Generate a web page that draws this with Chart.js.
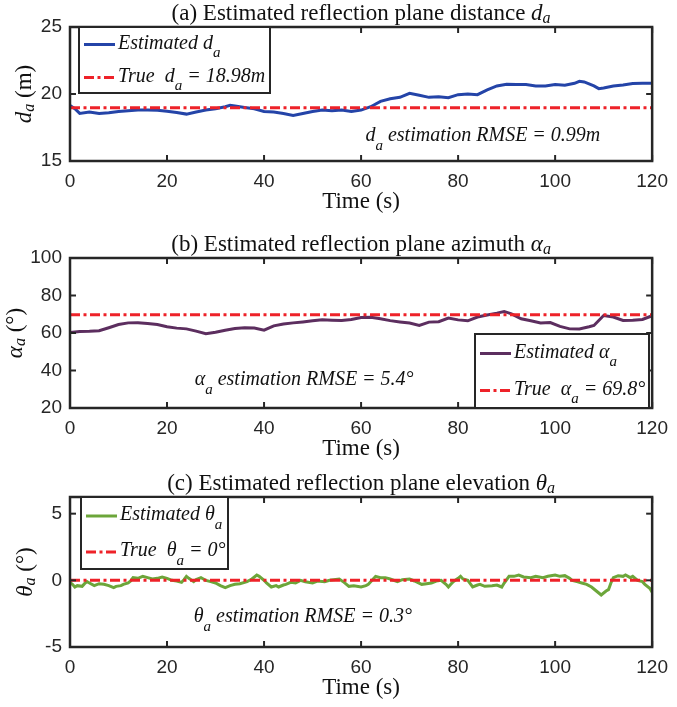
<!DOCTYPE html>
<html>
<head>
<meta charset="utf-8">
<script src="https://cdn.jsdelivr.net/npm/chart.js@4.4.1/dist/chart.umd.min.js"></script>
<style>
  html, body { margin: 0; padding: 0; background: #fff; }
  #wrap { position: relative; width: 677px; height: 707px; overflow: hidden; background: #fff; }
  #wrap canvas { position: absolute; left: 0; }
</style>
</head>
<body>
<div id="wrap">
  <canvas id="chartA" width="677" height="230" style="top:0"></canvas>
  <canvas id="chartB" width="677" height="232" style="top:230px"></canvas>
  <canvas id="chartC" width="677" height="245" style="top:462px"></canvas>
</div>
<script>
// ---- data ----
const xTicks = [0, 20, 40, 60, 80, 100, 120];
const distTicks = [15, 20, 25];
const azimuthTicks = [20, 40, 60, 80, 100];
const elevationTicks = [-5, 0, 5];

// (a) distance d_a (m)
const distTime = [0, 1, 2, 4, 6, 8, 10, 12, 14, 16, 18, 20, 22, 24, 26, 28, 30, 32, 33, 34, 36, 38, 40, 42, 44, 46, 48, 50, 52, 54, 56, 58, 60, 62, 64, 66, 68, 70, 72, 74, 76, 78, 80, 82, 84, 86, 88, 90, 92, 94, 96, 98, 100, 102, 104, 105, 106, 108, 109, 110, 112, 114, 116, 118, 120];
const distEst = [19.15, 18.9, 18.55, 18.65, 18.55, 18.6, 18.7, 18.75, 18.8, 18.8, 18.78, 18.72, 18.62, 18.5, 18.65, 18.8, 18.9, 19.05, 19.15, 19.1, 19.0, 18.9, 18.7, 18.65, 18.55, 18.4, 18.55, 18.7, 18.8, 18.75, 18.8, 18.7, 18.8, 19.05, 19.45, 19.65, 19.75, 20.05, 19.9, 19.75, 19.8, 19.72, 19.95, 20.0, 19.95, 20.3, 20.6, 20.72, 20.7, 20.7, 20.6, 20.6, 20.7, 20.65, 20.8, 20.95, 20.9, 20.6, 20.4, 20.45, 20.6, 20.68, 20.78, 20.8, 20.8];
const distTrue = 18.98;

// (b) azimuth alpha_a (deg)
const azimuthTime = [0, 2, 4, 6, 8, 10, 12, 14, 16, 18, 20, 22, 24, 26, 28, 30, 32, 34, 36, 38, 40, 42, 44, 46, 48, 50, 52, 54, 56, 58, 60, 62, 64, 66, 68, 70, 72, 74, 76, 78, 80, 82, 84, 86, 88, 89.5, 91, 93, 95, 97, 99, 101, 103, 105, 107, 108, 110, 112, 114, 116, 118, 120];
const azimuthEst = [60.2, 60.8, 60.9, 61.2, 62.8, 64.5, 65.4, 65.5, 65.1, 64.5, 63.3, 62.6, 62.2, 61.0, 59.6, 60.4, 61.5, 62.4, 62.8, 62.7, 61.5, 63.8, 64.8, 65.4, 65.9, 66.5, 67.0, 66.8, 66.7, 67.2, 68.3, 68.4, 67.6, 66.6, 65.9, 65.3, 64.0, 65.8, 66.0, 68.0, 67.0, 66.5, 68.5, 69.6, 70.6, 71.5, 70.2, 67.6, 66.5, 65.4, 65.6, 63.5, 62.2, 62.1, 63.3, 64.0, 69.3, 68.5, 66.7, 66.8, 67.2, 69.2];
const azimuthTrue = 69.8;

// (c) elevation theta_a (deg)
const elevationTime = [
    0, 0.5, 1, 1.5, 2.5, 3, 3.5, 4, 5, 6,
    7, 8, 9, 9.5, 10.5, 11, 12, 12.5, 13, 14,
    15, 16, 17, 18, 19, 20, 21, 22, 23, 23.5,
    24, 24.5, 25.5, 26, 27, 27.5, 28, 29, 30, 31,
    32, 33, 34, 35, 36.5, 37.5, 38.5, 39, 40, 40.5,
    41.5, 42.5, 43, 44, 44.5, 45.5, 46.5, 47.5, 48.5, 50,
    51, 52.5, 53.5, 55.5, 56.5, 57.5, 58.5, 60, 61, 61.5,
    62.5, 63, 64, 65, 66, 67.5, 68.5, 70, 71, 72.5,
    73.5, 74.5, 75.5, 76.5, 77.5, 78, 78.5, 79, 80, 80.5,
    81, 82, 82.5, 83, 84, 84.5, 85.5, 87, 88, 89,
    89.5, 90.5, 91.5, 92.5, 93.5, 95, 96, 97.5, 98.5, 100,
    101, 102, 103, 103.5, 104.5, 105.5, 106.5, 107.5, 108.5, 109.5,
    110.5, 111, 111.5, 112, 113, 114, 114.5, 115.5, 116, 117,
    118, 118.5, 119.5, 120
];
const elevationEst = [
    -0.15, -0.3, -0.5, -0.4, -0.45, -0.25, -0.1, -0.2, -0.4, -0.25,
    -0.3, -0.4, -0.55, -0.45, -0.4, -0.3, -0.2, -0.05, 0.2, 0.15,
    0.3, 0.2, 0.1, 0.15, 0.25, 0.15, 0.0, -0.05, -0.15, 0.05,
    0.3, 0.15, -0.1, 0.05, 0.2, 0.1, 0.0, -0.1, -0.2, -0.4,
    -0.55, -0.4, -0.3, -0.25, -0.1, 0.1, 0.4, 0.3, 0.0, -0.2,
    -0.5, -0.4, -0.5, -0.35, -0.3, -0.15, -0.2, 0.0, -0.1, -0.2,
    -0.05, -0.1, 0.0, 0.1, -0.15, -0.45, -0.4, -0.5, -0.4, -0.3,
    0.1, 0.3, 0.2, 0.2, 0.1, -0.1, 0.05, 0.1, -0.05, -0.3,
    -0.25, -0.2, -0.05, 0.0, -0.3, -0.5, -0.3, -0.1, 0.15, 0.3,
    0.1, 0.0, -0.25, -0.5, -0.35, -0.3, -0.45, -0.4, -0.35, -0.5,
    -0.2, 0.3, 0.3, 0.4, 0.25, 0.2, 0.3, 0.2, 0.3, 0.4,
    0.3, 0.35, 0.15, 0.0, -0.1, -0.2, -0.3, -0.5, -0.8, -1.1,
    -0.8, -0.7, -0.2, 0.2, 0.35, 0.3, 0.4, 0.2, 0.3, 0.0,
    -0.1, -0.3, -0.6, -0.9
];
const elevationTrue = 0;

// ---- drawing helpers ----
const SERIF = '"Liberation Serif", "Times New Roman", serif';
const SANS = '"Liberation Sans", Arial, sans-serif';
const INK = '#262626';
const RED = '#ee2229';
const DASHDOT = [10, 3.5, 3, 3.5];

// '$...$' switches to math italic, '_x' makes x a subscript
function parseRich(str, italicBase) {
    const parts = [];
    let italic = italicBase;
    let buf = '';
    const flush = () => { if (buf) { parts.push({ t: buf, italic, sub: false }); buf = ''; } };
    for (let i = 0; i < str.length; i++) {
        const c = str[i];
        if (c === '$') { flush(); italic = italicBase || !italic; continue; }
        if (c === '_') { flush(); parts.push({ t: str[i + 1], italic: true, sub: true }); i++; continue; }
        buf += c;
    }
    flush();
    return parts;
}

function drawRich(ctx, str, x, y, o) {
    const parts = parseRich(str, o.italic);
    const font = p => (p.italic ? 'italic ' : '') + (p.sub ? o.subSize : o.size) + 'px ' + SERIF;
    let w = 0;
    parts.forEach(p => { ctx.font = font(p); p.w = ctx.measureText(p.t).width; w += p.w; });
    let cx = o.align === 'center' ? x - w / 2 : x;
    ctx.fillStyle = o.color || '#111';
    ctx.textAlign = 'left';
    ctx.textBaseline = 'middle';
    parts.forEach(p => {
        ctx.font = font(p);
        ctx.fillText(p.t, cx, y + (p.sub ? o.subDy : 0));
        cx += p.w;
    });
}

function seg(ctx, x1, y1, x2, y2) {
    ctx.beginPath();
    ctx.moveTo(x1, y1);
    ctx.lineTo(x2, y2);
    ctx.stroke();
}

const LABEL_FONT = { size: 23, subSize: 16, subDy: 5, italic: false, align: 'center' };
const TEX_FONT = { size: 20, subSize: 15, subDy: 10, italic: true };

// MATLAB-like frame: box, inward ticks, titles, inset legend, note
const matlabAxes = {
    id: 'matlabAxes',
    afterDraw(chart, args, o) {
        const { ctx, chartArea: a, scales: { x, y } } = chart;
        ctx.save();

        ctx.strokeStyle = INK;
        ctx.lineWidth = 2;
        x.ticks.forEach(t => {
            const px = x.getPixelForValue(t.value);
            seg(ctx, px, a.bottom, px, a.bottom - 6);
            seg(ctx, px, a.top, px, a.top + 6);
        });
        y.ticks.forEach(t => {
            const py = y.getPixelForValue(t.value);
            seg(ctx, a.left, py, a.left + 6, py);
            seg(ctx, a.right, py, a.right - 6, py);
        });
        ctx.lineWidth = 2.5;
        ctx.strokeRect(a.left, a.top, a.right - a.left, a.bottom - a.top);

        const mid = (a.left + a.right) / 2;
        drawRich(ctx, o.title, mid, a.top - 13, LABEL_FONT);
        drawRich(ctx, 'Time (s)', mid, a.bottom + 41, LABEL_FONT);

        ctx.save();
        ctx.translate(o.yTitleX, (a.top + a.bottom) / 2);
        ctx.rotate(-Math.PI / 2);
        drawRich(ctx, o.yTitle, 0, 0, LABEL_FONT);
        ctx.restore();

        // legend box inside the axes
        const L = o.legend;
        const lx = a.left + L.left;
        const ly = a.top + L.top;
        ctx.fillStyle = '#fff';
        ctx.fillRect(lx, ly, L.width, L.height);
        ctx.strokeStyle = INK;
        ctx.lineWidth = 2;
        ctx.strokeRect(lx, ly, L.width, L.height);
        chart.data.datasets.forEach((ds, i) => {
            const ry = ly + L.height * (2 * i + 1) / 4;
            ctx.strokeStyle = ds.borderColor;
            ctx.lineWidth = ds.borderWidth;
            ctx.setLineDash(ds.borderDash || []);
            seg(ctx, lx + 5, ry + 1, lx + 36, ry + 1);
            ctx.setLineDash([]);
            drawRich(ctx, ds.label, lx + 39, ry, TEX_FONT);
        });

        const n = o.note;
        drawRich(ctx, n.text, x.getPixelForValue(n.x), y.getPixelForValue(n.y), TEX_FONT);

        ctx.restore();
    }
};

function points(times, values) {
    return times.map((t, i) => ({ x: t, y: values[i] }));
}

function makeChart(id, cfg) {
    return new Chart(document.getElementById(id), {
        type: 'line',
        data: {
            datasets: [
                {
                    label: cfg.estLabel,
                    data: points(cfg.time, cfg.est),
                    borderColor: cfg.color,
                    borderWidth: 3,
                    pointRadius: 0,
                    tension: 0,
                    order: 2
                },
                {
                    label: cfg.trueLabel,
                    data: [{ x: 0, y: cfg.trueValue }, { x: 120, y: cfg.trueValue }],
                    borderColor: RED,
                    borderWidth: 3,
                    borderDash: DASHDOT,
                    borderCapStyle: 'butt',
                    pointRadius: 0,
                    order: 1
                }
            ]
        },
        options: {
            responsive: false,
            animation: false,
            devicePixelRatio: 1,
            layout: { padding: { left: 0, right: 18, top: cfg.padTop, bottom: 0 } },
            scales: {
                x: {
                    type: 'linear',
                    min: 0,
                    max: 120,
                    afterBuildTicks: s => { s.ticks = xTicks.map(v => ({ value: v })); },
                    afterFit: s => { s.height = cfg.xHeight; },
                    grid: { display: false, drawTicks: false },
                    border: { display: false },
                    ticks: { padding: 9, color: INK, font: { family: SANS, size: 19 }, maxRotation: 0 }
                },
                y: {
                    type: 'linear',
                    min: cfg.yMin,
                    max: cfg.yMax,
                    afterBuildTicks: s => { s.ticks = cfg.yTicks.map(v => ({ value: v })); },
                    afterFit: s => { s.width = 70; },
                    grid: { display: false, drawTicks: false },
                    border: { display: false },
                    ticks: { padding: 8, color: INK, font: { family: SANS, size: 19 } }
                }
            },
            plugins: {
                legend: { display: false },
                tooltip: { enabled: false },
                matlabAxes: {
                    title: cfg.title,
                    yTitle: cfg.yTitle,
                    yTitleX: cfg.yTitleX,
                    legend: cfg.legend,
                    note: cfg.note
                }
            }
        },
        plugins: [matlabAxes]
    });
}

makeChart('chartA', {
    time: distTime, est: distEst, trueValue: distTrue,
    color: '#2444a8',
    estLabel: 'Estimated d_a',
    trueLabel: 'True  d_a = 18.98m',
    title: '(a) Estimated reflection plane distance $d_a$',
    yTitle: '$d_a$ (m)', yTitleX: 25,
    yMin: 15, yMax: 25, yTicks: distTicks,
    padTop: 27, xHeight: 69,
    legend: { left: 9, top: 0, width: 191, height: 66 },
    note: { x: 60.9, y: 16.87, text: 'd_a estimation RMSE = 0.99m' }
});

makeChart('chartB', {
    time: azimuthTime, est: azimuthEst, trueValue: azimuthTrue,
    color: '#5c2e5f',
    estLabel: 'Estimated \u03b1_a',
    trueLabel: 'True  \u03b1_a = 69.8\u00b0',
    title: '(b) Estimated reflection plane azimuth $\u03b1_a$',
    yTitle: '$\u03b1_a$ (\u00b0)', yTitleX: 16,
    yMin: 20, yMax: 100, yTicks: azimuthTicks,
    padTop: 28, xHeight: 54,
    legend: { left: 405, top: 76, width: 174, height: 74 },
    note: { x: 25.7, y: 35.1, text: '\u03b1_a estimation RMSE = 5.4\u00b0' }
});

makeChart('chartC', {
    time: elevationTime, est: elevationEst, trueValue: elevationTrue,
    color: '#6ca63a',
    estLabel: 'Estimated \u03b8_a',
    trueLabel: 'True  \u03b8_a = 0\u00b0',
    title: '(c) Estimated reflection plane elevation $\u03b8_a$',
    yTitle: '$\u03b8_a$ (\u00b0)', yTitleX: 26,
    yMin: -5, yMax: 6.25, yTicks: elevationTicks,
    padTop: 35, xHeight: 60,
    legend: { left: 11, top: 0, width: 147, height: 72 },
    note: { x: 25.5, y: -2.72, text: '\u03b8_a estimation RMSE = 0.3\u00b0' }
});
</script>
</body>
</html>
